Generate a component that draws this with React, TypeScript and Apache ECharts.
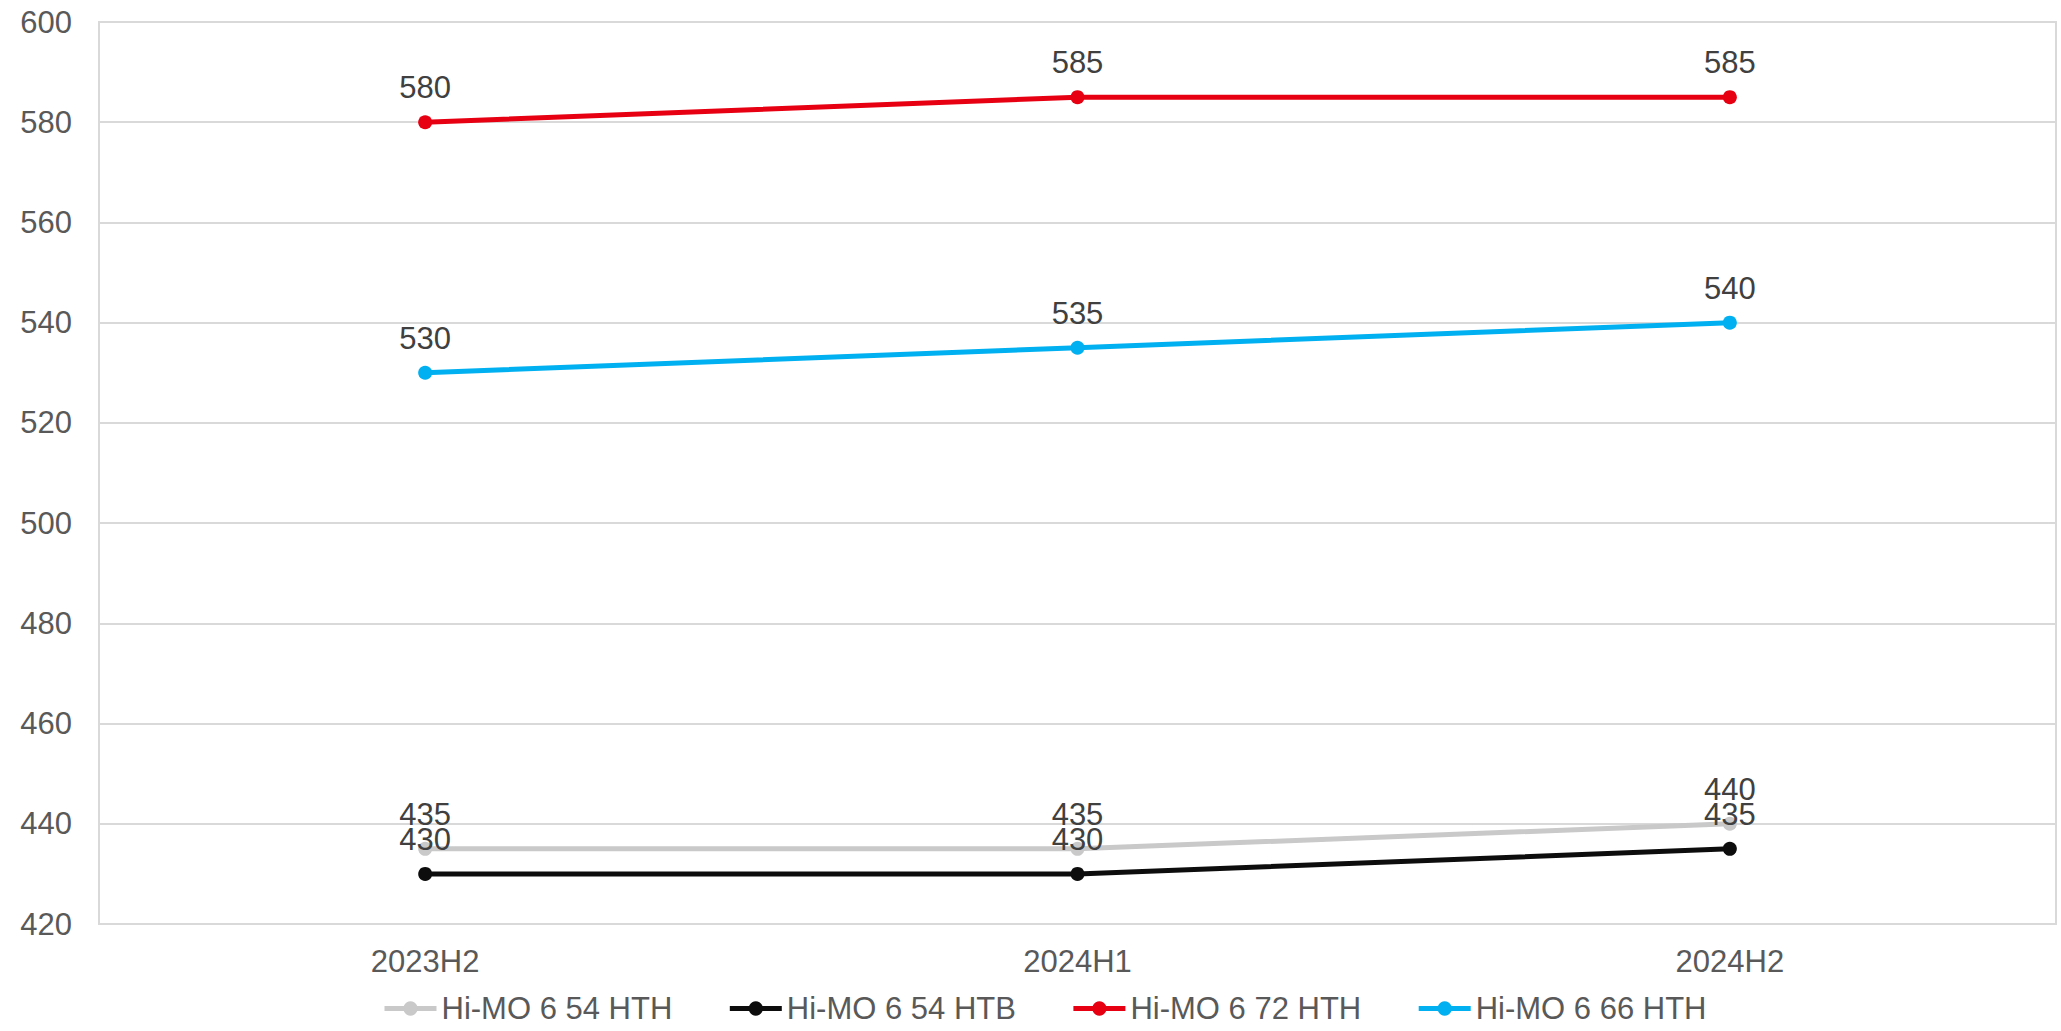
import React, { useEffect, useRef } from "react";
import * as echarts from "echarts";

const categories = ["2023H2", "2024H1", "2024H2"];
const seriesNames = ["Hi-MO 6 54 HTH", "Hi-MO 6 54 HTB", "Hi-MO 6 72 HTH", "Hi-MO 6 66 HTH"];
const hth54 = [435, 435, 440];
const htb54 = [430, 430, 435];
const hth72 = [580, 585, 585];
const hth66 = [530, 535, 540];
const colors = ["#c9c9c9", "#0d0d0d", "#e60012", "#00b0f0"];
const yTicks = { min: 420, max: 600, interval: 20 };

const FONT = "Liberation Sans, Arial, sans-serif";

export default function App() {
  const ref = useRef<HTMLDivElement>(null);
  useEffect(() => {
    document.body.style.margin = "0";
    const chart = echarts.init(ref.current!, null, { renderer: "svg" });
    const data = [hth54, htb54, hth72, hth66];
    chart.setOption({
      animation: false,
      backgroundColor: "#ffffff",
      textStyle: { fontFamily: FONT },
      grid: {
        left: 99,
        right: 5,
        top: 22,
        bottom: 107,
        show: true,
        borderColor: "#d9d9d9",
        borderWidth: 2,
      },
      legend: {
        data: seriesNames,
        left: 377,
        bottom: 2,
        itemWidth: 52,
        itemHeight: 18,
        itemGap: 55,
        lineStyle: { width: 5 },
        textStyle: { fontSize: 31, color: "#595959", fontFamily: FONT },
      },
      xAxis: {
        type: "category",
        data: categories,
        boundaryGap: true,
        axisLine: { show: true, lineStyle: { color: "#d9d9d9", width: 2 } },
        axisTick: { show: false },
        axisLabel: { fontSize: 31, color: "#595959", margin: 22, fontFamily: FONT },
      },
      yAxis: {
        type: "value",
        min: yTicks.min,
        max: yTicks.max,
        interval: yTicks.interval,
        axisLine: { show: true, lineStyle: { color: "#d9d9d9", width: 2 } },
        axisTick: { show: false },
        axisLabel: { fontSize: 31, color: "#595959", margin: 27, fontFamily: FONT },
        splitLine: { lineStyle: { color: "#d9d9d9", width: 2 } },
      },
      series: seriesNames.map((name, i) => ({
        name,
        type: "line",
        data: data[i],
        color: colors[i],
        symbol: "circle",
        symbolSize: 14,
        lineStyle: { width: 5, color: colors[i] },
        itemStyle: { color: colors[i] },
        label: {
          show: true,
          position: "top",
          distance: 12,
          fontSize: 31,
          color: "#404040",
          fontFamily: FONT,
        },
        z: i === 0 ? 2 : 3,
      })),
    });
    return () => chart.dispose();
  }, []);
  return (
    <div
      ref={ref}
      style={{ position: "fixed", left: 0, top: 0, width: 2061, height: 1031 }}
    />
  );
}
